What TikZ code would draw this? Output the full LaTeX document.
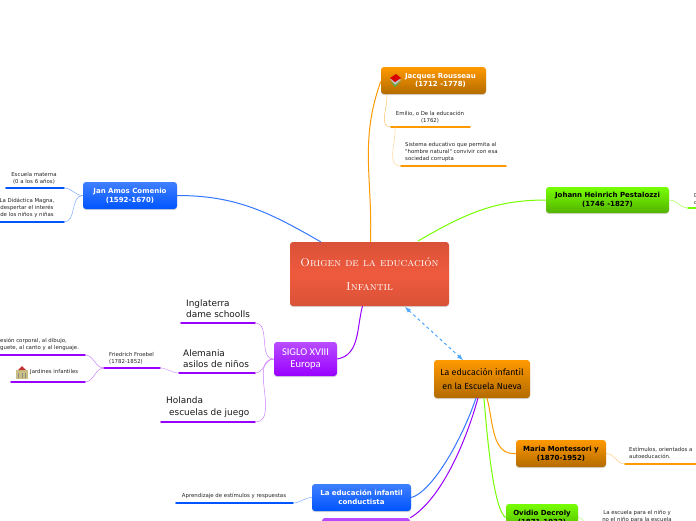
\documentclass[tikz,border=0pt]{standalone}
\usepackage{fontspec}
\usetikzlibrary{shadows}
\newfontfamily\labelfont{DejaVu Sans}
\newfontfamily\narrowfont{Carlito}
\newfontfamily\handfont{Fira Sans}
\definecolor{mapblue}{HTML}{0055FF}
\definecolor{mappurple}{HTML}{9900FF}
\definecolor{maporange}{HTML}{FF9900}
\definecolor{mapgreen}{HTML}{77FF00}
\definecolor{mapred}{HTML}{EF5A3D}
\definecolor{mapredtop}{HTML}{D95238}
\tikzset{
  box/.style={rounded corners=3pt,inner sep=0pt,align=center,font=\labelfont\bfseries\fontsize{7}{8.8}\selectfont,
    drop shadow={shadow xshift=0pt,shadow yshift=-1.2pt,opacity=.3}},
  bluebox/.style={box,top color=mapblue!75!white,bottom color=mapblue,text=white},
  purplebox/.style={box,top color=mappurple!70!white,bottom color=mappurple,text=white},
  orangebox/.style={box,top color=maporange,bottom color=maporange!70!black},
  greenbox/.style={box,top color=mapgreen,bottom color=mapgreen!70!black},
  leaf/.style={inner sep=0pt,align=center,text=black!85,font=\labelfont\fontsize{5.4}{7}\selectfont},
  bigleaf/.style={inner sep=0pt,align=left,text=black!90,font=\labelfont\fontsize{8.9}{11.2}\selectfont},
  bar/.style={line width=1.6pt,line cap=round},
  link/.style={line width=1pt},
  twig/.style={line width=.5pt},
}
\begin{document}
\begin{tikzpicture}[x=1pt,y=-1pt]
\clip (0,0) rectangle (696,520);
\fill[white] (0,0) rectangle (696,520);
% main boxes
\node[box,minimum width=159pt,minimum height=64pt,top color=mapredtop,bottom color=mapredtop,middle color=mapred,text=white,font=\scshape\fontsize{11.4}{24}\selectfont] (centre) at (369.5,274) {Origen de la educación\\Infantil};
\node[orangebox,minimum width=105pt,minimum height=27pt,text=white] (rousseau) at (433.5,80.5) {\hspace*{14pt}Jacques Rousseau\\\hspace*{14pt}(1712 -1778)};
\node[greenbox,minimum width=123pt,minimum height=26pt,text=black] (pestalozzi) at (607.5,200) {Johann Heinrich Pestalozzi\\(1746 -1827)};
\node[bluebox,minimum width=94pt,minimum height=27pt] (comenio) at (130,195.5) {Jan Amos Comenio\\(1592-1670)};
\node[purplebox,minimum width=63pt,minimum height=34pt,font=\narrowfont\fontsize{10.5}{12}\selectfont] (siglo) at (305.5,359) {SIGLO XVIII\\Europa};
\node[orangebox,minimum width=96pt,minimum height=38pt,text=black,font=\handfont\fontsize{8.8}{14.5}\selectfont] (nueva) at (482,379) {La educación infantil\\en la Escuela Nueva};
\node[orangebox,minimum width=90pt,minimum height=27pt,text=black] (montessori) at (561,453.5) {Maria Montessori y\\(1870-1952)};
\node[greenbox,minimum width=72pt,minimum height=27pt,text=black] (decroly) at (542,517.5) {Ovidio Decroly\\(1871-1932)};
\node[bluebox,minimum width=99pt,minimum height=27pt] (conductista) at (361.5,497.5) {La educación infantil\\conductista};
\node[purplebox,minimum width=88pt,minimum height=30pt] (otra) at (366,533) {};
% underlines of the leaves
\foreach \name/\xa/\xb/\y/\col in {materna/6/64/188/mapblue,magna/-5/64/222/mapblue,
  emilio/391/470/127/maporange,sistema/401/506/166/maporange,
  gotas/688/700/208/mapgreen,
  inglaterra/181/255/323/mappurple,alemania/179/255/373/mappurple,holanda/161/255/422/mappurple,
  froebel/104/160/368/mappurple,expresion/-5/85/355/mappurple,jardines/11/85/382/mappurple,
  estimulos/625/700/464/maporange,respuestas/176/293/503/mapblue} {
  \coordinate (l\name) at (\xa,\y);
  \coordinate (r\name) at (\xb,\y);
  \draw[bar,\col] (l\name) -- (r\name);
}
\coordinate (escuela) at (592,532);
% leaf texts
\node[leaf] (tmaterna) at (34,178) {Escuela materna\\(0 a los 6 años)};
\node[leaf] (tmagna) at (27,208) {La Didáctica Magna,\\despertar el interés\\de los niños y niñas};
\node[leaf] (temilio) at (430,117) {Emilio, o De la educación\\(1762)};
\node[leaf,align=left,anchor=west] (tsistema) at (405,152.5) {Sistema educativo que permita al\\"hombre natural" convivir con esa\\sociedad corrupta};
\node[leaf,align=left,anchor=west] (tgotas) at (694,199) {D\\d};
\node[bigleaf,anchor=west] (tinglaterra) at (186,308.5) {Inglaterra\\dame schoolls};
\node[bigleaf,anchor=west] (talemania) at (183,358.5) {Alemania\\asilos de niños};
\node[bigleaf,anchor=west] (tholanda) at (166,407) {Holanda\\\hspace*{3pt}escuelas de juego};
\node[leaf,align=left,anchor=west] (tfroebel) at (109,358) {Friedrich Froebel\\(1782-1852)};
\node[leaf,align=left,anchor=west] (texpresion) at (0,344.5) {esión corporal, al dibujo,\\guete, al canto y al lenguaje.};
\node[leaf,anchor=west] (tjardines) at (30,372) {Jardines infantiles};
\node[leaf,align=left,anchor=west] (testimulos) at (629,452.5) {Estímulos, orientados a\\autoeducación.};
\node[leaf] (tescuela) at (637,516.5) {La escuela para el niño y\\no el niño para la escuela};
\node[leaf] (trespuestas) at (234,496) {Aprendizaje de estímulos y respuestas};
% connectors of the main branches
\draw[link,mapblue!80!white] (comenio.east) to[out=0,in=150] (321,242);
\draw[link,maporange] (rousseau.181) to[out=250,in=88] (370.5,242);
\draw[link,mapgreen] (pestalozzi.west) to[out=180,in=30] (418,241);
\draw[link,mappurple] (siglo.east) to[out=10,in=255] (362.5,306);
\draw[link,mapblue!80!white] (conductista.east) .. controls (430,493) and (460,445) .. (476,398);
\draw[link,mappurple] (otra.north east) .. controls (440,500) and (465,445) .. (478,398);
\draw[link,mapgreen] (decroly.west) .. controls (495,512) and (488,450) .. (484,398);
\draw[link,maporange] (montessori.west) to[out=185,in=285] (487,398);
\draw[link,dashed,<->,>=latex,blue!50!cyan!70] (405,307) -- (463,360);
% connectors of the leaves
\draw[twig,mapblue!50] (comenio.west) to[out=180,in=0] (rmaterna);
\draw[twig,mapblue!50] (comenio.west) to[out=180,in=0] (rmagna);
\draw[twig,maporange!60] (387,94) to[out=275,in=180] (lemilio);
\draw[twig,maporange!40] (395,127) to[out=275,in=180] (lsistema);
\draw[twig,mapgreen!70] (pestalozzi.east) to[out=0,in=180] (lgotas);
\draw[twig,mappurple!50] (siglo.west) to[out=180,in=0] (ringlaterra);
\draw[twig,mappurple!50] (siglo.west) to[out=180,in=0] (ralemania);
\draw[twig,mappurple!50] (siglo.west) to[out=180,in=0] (rholanda);
\draw[twig,mappurple!40] (rfroebel) to[out=0,in=180] (lalemania);
\draw[twig,mappurple!50] (lfroebel) to[out=180,in=0] (rexpresion);
\draw[twig,mappurple!50] (lfroebel) to[out=180,in=0] (rjardines);
\draw[twig,maporange!50] (montessori.east) to[out=0,in=180] (lestimulos);
\draw[twig,mapgreen!60] (decroly.east) to[out=0,in=180] (escuela);
\draw[twig,mapblue!50] (conductista.west) to[out=180,in=0] (rrespuestas);
% icons
\fill[black!25] (390,79) -- (396,76) -- (401,80) -- (395,85) -- cycle;
\fill[green!40!gray] (390,81) -- (395,85) -- (401,81) -- (395,87) -- cycle;
\fill[red!85!black] (390,78) -- (396,74) -- (401,78) -- (395,82) -- cycle;
\fill[orange!30!yellow!40!gray!70] (16,370) rectangle (28,379);
\fill[red!70!black!80] (18,370) -- (22,366) -- (26,370) -- cycle;
\foreach \x in {18,21.5,25} {
  \fill[black!45] (\x,373) rectangle (\x+1.2,378);
}
\end{tikzpicture}
\end{document}
